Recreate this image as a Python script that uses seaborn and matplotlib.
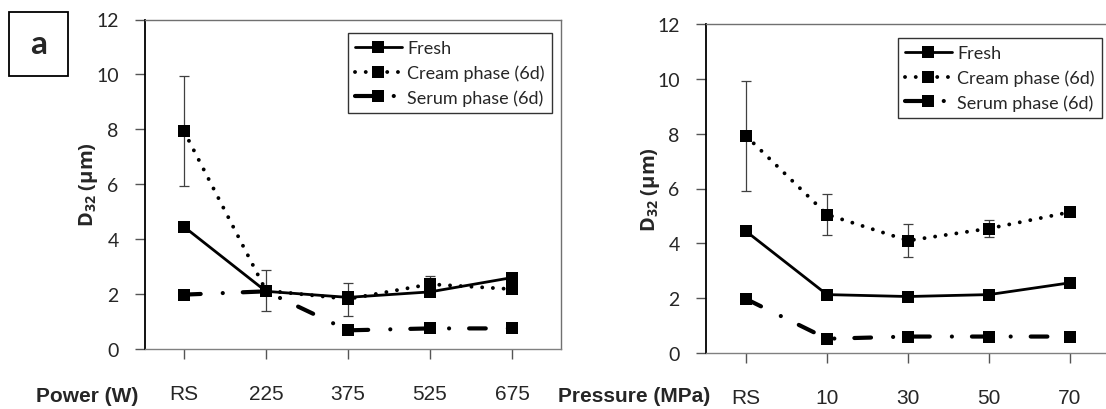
import numpy as np
import pandas as pd
import seaborn as sns
import matplotlib.pyplot as plt
from matplotlib.lines import Line2D
from matplotlib.patches import Rectangle

# data
power_labels = ['RS', '225', '375', '525', '675']
pressure_labels = ['RS', '10', '30', '50', '70']
series_names = ['Fresh', 'Cream phase (6d)', 'Serum phase (6d)']

# panel a: ultrasound power
power_fresh = [4.45, 2.1, 1.88, 2.08, 2.6]
power_cream = [7.93, 2.13, 1.82, 2.36, 2.18]
power_cream_err = [2.0, 0.75, 0.6, 0.3, 0.0]
power_serum = [1.98, 2.1, 0.68, 0.75, 0.75]

# panel b: homogenisation pressure
pressure_fresh = [4.44, 2.13, 2.06, 2.13, 2.56]
pressure_cream = [7.92, 5.05, 4.1, 4.54, 5.14]
pressure_cream_err = [2.0, 0.75, 0.6, 0.3, 0.0]
pressure_serum = [1.97, 0.52, 0.6, 0.6, 0.6]

sns.set_style('white')
plt.rcParams['font.family'] = ['Lato', 'DejaVu Sans']
plt.rcParams['mathtext.fontset'] = 'custom'
plt.rcParams['mathtext.rm'] = 'Open Sans'
plt.rcParams['mathtext.bf'] = 'Open Sans:bold'
narrow = ['Liberation Sans Narrow', 'Liberation Sans', 'DejaVu Sans']

W, H = 1106, 410
fig = plt.figure(figsize=(W / 100, H / 100), dpi=100)

# line styles for the three series
styles = {
    'Fresh': dict(lw=2.0, ls='-', cap='butt'),
    'Cream phase (6d)': dict(lw=2.8, ls=(0, (0.01, 2.75)), cap='round'),
    'Serum phase (6d)': dict(lw=3.0, ls=(0, (4, 5.3, 0.01, 4.8)), cap='round'),
}


def draw_panel(rect, labels, fresh, cream, cream_err, serum, xlim, xname, xname_x, ylab_x, ylab_y, leg_anchor):
    ax = fig.add_axes(rect)
    pos = np.arange(len(labels))
    df = pd.DataFrame({'pos': np.tile(pos, 3),
                       'D32': fresh + cream + serum,
                       'series': np.repeat(series_names, len(labels))})
    ax.errorbar(pos[:4], cream[:4], yerr=cream_err[:4], fmt='none', ecolor='#404040',
                elinewidth=0.9, capsize=3.5, capthick=0.9, zorder=2)
    for name in ['Cream phase (6d)', 'Serum phase (6d)', 'Fresh']:
        st = styles[name]
        sub = df[df.series == name]
        sns.lineplot(data=sub, x='pos', y='D32', ax=ax, color='black', marker='s',
                     markersize=8, markeredgecolor='black', markeredgewidth=0, lw=st['lw'],
                     zorder=3)
        line = ax.lines[-1]
        line.set_linestyle(st['ls'])
        line.set_dash_capstyle(st['cap'])
        line.set_solid_capstyle('butt')
    ax.set_xlim(*xlim)
    ax.set_ylim(0, 12)
    ax.set_yticks(range(0, 13, 2))
    ax.set_xticks(pos)
    ax.set_xticklabels(labels, family=narrow, fontsize=15)
    ax.tick_params(axis='y', labelsize=14, length=7, width=1, color='#555555', pad=12, left=True,
                   direction='out')
    ax.tick_params(axis='x', length=7, width=1, color='#555555', pad=18, bottom=True, direction='out')
    ax.set_xlabel('')
    ax.set_ylabel('')
    ax.spines['left'].set_color('black')
    ax.spines['left'].set_linewidth(1.3)
    ax.spines['bottom'].set_color('#808080')
    ax.spines['bottom'].set_linewidth(1.0)
    for s in ['top', 'right']:
        ax.spines[s].set_color('#707070')
        ax.spines[s].set_linewidth(1.0)
    ax.grid(False)
    if ax.get_legend() is not None:
        ax.get_legend().remove()

    fig.text(xname_x / W, 1 - 397 / H, xname, family=narrow, fontweight='bold', fontsize=15,
             ha='right', va='center')
    fig.text(ylab_x / W, 1 - ylab_y / H, r'$\mathbf{D_{32}}$ (µm)', family='Open Sans',
             fontweight='bold', fontsize=14.5, rotation=90, ha='center', va='center')

    handles = []
    for name in series_names:
        st = styles[name]
        h = Line2D([], [], color='black', marker='s', markersize=8, markeredgewidth=0,
                   lw=st['lw'], ls=st['ls'], dash_capstyle=st['cap'])
        handles.append(h)
    leg = ax.legend(handles, series_names, loc='upper right',
                    bbox_to_anchor=(leg_anchor[0] / W, 1 - leg_anchor[1] / H),
                    bbox_transform=fig.transFigure, borderaxespad=0, fontsize=13,
                    frameon=True, fancybox=False, handlelength=2.6, handletextpad=0.3,
                    labelspacing=0.45, borderpad=0.4, markerscale=1)
    leg.get_frame().set_edgecolor('black')
    leg.get_frame().set_linewidth(1.0)
    return ax


draw_panel([145 / W, 1 - 350 / H, 416 / W, 329.5 / H], power_labels,
           power_fresh, power_cream, power_cream_err, power_serum,
           (-0.476, 4.598), 'Power (W)', 138, 89, 185, (552, 34))
draw_panel([706 / W, 1 - 354 / H, 412.6 / W, 329 / H], pressure_labels,
           pressure_fresh, pressure_cream, pressure_cream_err, pressure_serum,
           (-0.494, 4.6), 'Pressure (MPa)', 710, 651, 190, (1102, 39))

# panel letter in a box
fig.patches.append(Rectangle((9 / W, 1 - 77 / H), 59 / W, 64 / H, transform=fig.transFigure,
                             fill=False, edgecolor='black', lw=1.3))
fig.text(38.5 / W, 1 - 45 / H, 'a', fontsize=24, fontweight='bold', ha='center', va='center')

fig.savefig('out.png', dpi=100)
